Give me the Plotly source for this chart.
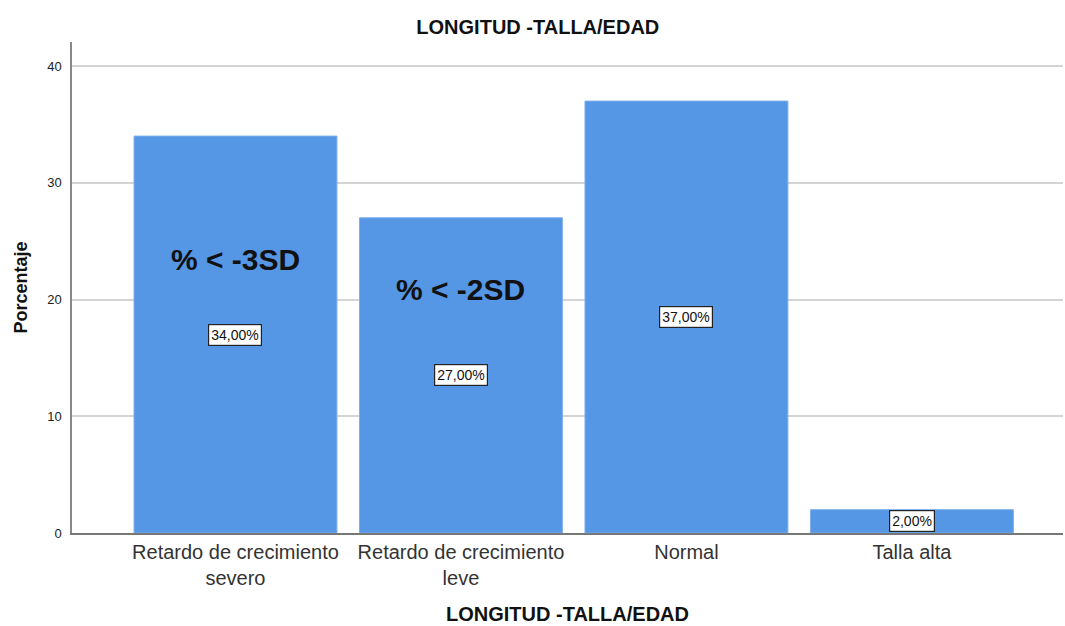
import plotly.graph_objects as go

categories = ["Retardo de crecimiento<br>severo", "Retardo de crecimiento<br>leve", "Normal", "Talla alta"]
percentages = [34.0, 27.0, 37.0, 2.0]
value_labels = ["34,00%", "27,00%", "37,00%", "2,00%"]
sd_labels = ["% < -3SD", "% < -2SD"]
sd_label_y = [23.4, 20.9]
y_ticks = [0, 10, 20, 30, 40]

FONT = "Liberation Sans, Arial, sans-serif"
x_idx = list(range(len(categories)))

fig = go.Figure()
fig.add_trace(go.Bar(
    x=x_idx, y=percentages, width=0.9,
    marker=dict(color="#5596E5", line=dict(color="#7FB0EE", width=1)),
    hoverinfo="skip",
))

for i, (v, lab) in enumerate(zip(percentages, value_labels)):
    fig.add_annotation(x=i, y=v / 2, text=lab, showarrow=False,
                       font=dict(family=FONT, size=14, color="#111"),
                       bgcolor="white", bordercolor="#222", borderwidth=1.2, borderpad=2)

for i, (lab, yy) in enumerate(zip(sd_labels, sd_label_y)):
    fig.add_annotation(x=i, y=yy, text="<b>" + lab + "</b>", showarrow=False,
                       font=dict(family=FONT, size=30, color="#111"))

fig.update_layout(
    width=1065, height=626,
    margin=dict(l=72, r=2, t=42, b=93),
    paper_bgcolor="white", plot_bgcolor="white",
    showlegend=False,
    title=dict(text="<b>LONGITUD -TALLA/EDAD</b>", x=0.505, xanchor="center",
               y=1 - 27 / 626, yanchor="middle",
               font=dict(family=FONT, size=20, color="#111")),
    xaxis=dict(
        tickmode="array", tickvals=x_idx, ticktext=categories,
        range=[-0.725, 3.67], showgrid=False, zeroline=False,
        showline=True, linecolor="#777", linewidth=1.5, ticks="",
        tickfont=dict(family=FONT, size=20, color="#333"),
        title=dict(text="<b>LONGITUD -TALLA/EDAD</b>", standoff=19,
                   font=dict(family=FONT, size=20, color="#111")),
    ),
    yaxis=dict(
        range=[0, 42.06], tickvals=y_ticks, showgrid=True, gridcolor="#D4D4D4",
        gridwidth=1.5, zeroline=False, showline=True, linecolor="#888", linewidth=1.5,
        ticks="", ticklabelstandoff=6, tickfont=dict(family=FONT, size=13, color="#222"),
        title=dict(text="<b>Porcentaje</b>", standoff=15,
                   font=dict(family=FONT, size=18, color="#111")),
    ),
)

fig.write_html("out.html")
